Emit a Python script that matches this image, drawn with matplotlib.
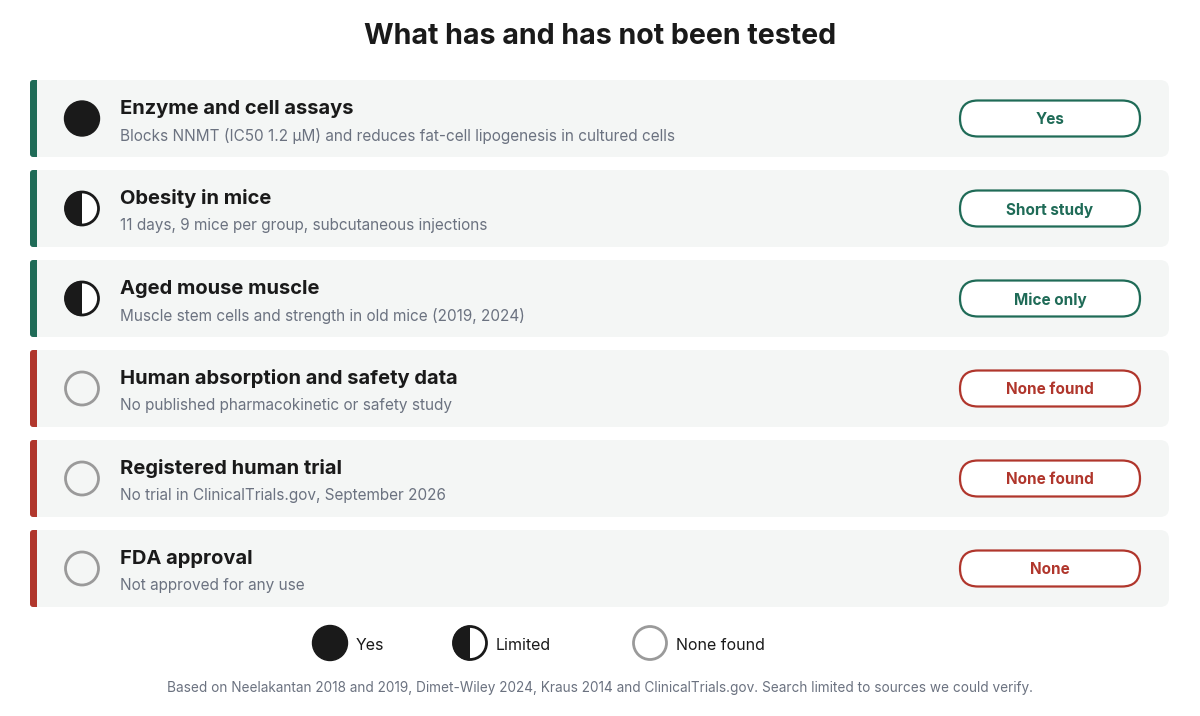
import matplotlib
matplotlib.use("Agg")
import matplotlib.pyplot as plt
from matplotlib.patches import FancyBboxPatch, Circle, Wedge

plt.rcParams['font.family'] = ['Inter', 'DejaVu Sans']

# ---- data ----
chart_title = "What has and has not been tested"
categories = ["Enzyme and cell assays", "Obesity in mice", "Aged mouse muscle",
              "Human absorption and safety data", "Registered human trial", "FDA approval"]
descriptions = ["Blocks NNMT (IC50 1.2 µM) and reduces fat-cell lipogenesis in cultured cells",
                "11 days, 9 mice per group, subcutaneous injections",
                "Muscle stem cells and strength in old mice (2019, 2024)",
                "No published pharmacokinetic or safety study",
                "No trial in ClinicalTrials.gov, September 2026",
                "Not approved for any use"]
evidence = ["yes", "limited", "limited", "none", "none", "none"]
verdicts = ["Yes", "Short study", "Mice only", "None found", "None found", "None"]
verdict_good = [True, True, True, False, False, False]
legend_keys = ["yes", "limited", "none"]
legend_labels = ["Yes", "Limited", "None found"]
footer = ("Based on Neelakantan 2018 and 2019, Dimet-Wiley 2024, Kraus 2014 and ClinicalTrials.gov. "
          "Search limited to sources we could verify.")

# ---- style ----
GREEN = "#1f6b57"
RED = "#b0362c"
CARD = "#f4f6f5"
DARK = "#1a1a1a"
GREY_TXT = "#6b7280"
GREY_RING = "#9a9a9a"

fig = plt.figure(figsize=(12, 7.16), dpi=100)
ax = fig.add_axes([0, 0, 1, 1])
ax.set_xlim(0, 1200)
ax.set_ylim(716, 0)
ax.axis("off")


def icon(kind, cx, cy, r):
    if kind == "yes":
        ax.add_patch(Circle((cx, cy), r, facecolor=DARK, edgecolor=DARK, lw=1.0, zorder=3))
    elif kind == "limited":
        ax.add_patch(Circle((cx, cy), r - 1.0, facecolor="white", edgecolor="none", zorder=3))
        ax.add_patch(Wedge((cx, cy), r, 90, 270, facecolor=DARK, edgecolor="none", zorder=4))
        ax.add_patch(Circle((cx, cy), r - 1.0, facecolor="none", edgecolor=DARK, lw=2.0, zorder=5))
    else:
        ax.add_patch(Circle((cx, cy), r - 1.0, facecolor="none", edgecolor=GREY_RING, lw=2.0, zorder=3))


ax.text(600, 36, chart_title, ha="center", va="center", fontsize=20.6, fontweight="bold", color=DARK)

top0, pitch, h = 80, 90, 77
for i, cat in enumerate(categories):
    top = top0 + i * pitch
    cy = top + h / 2
    col = GREEN if verdict_good[i] else RED
    ax.add_patch(FancyBboxPatch((30, top), 1139, h, boxstyle="round,pad=0,rounding_size=9",
                                facecolor=CARD, edgecolor="none", zorder=1))
    ax.add_patch(FancyBboxPatch((30, top), 7, h, boxstyle="round,pad=0,rounding_size=3",
                                facecolor=col, edgecolor="none", zorder=2))
    ax.add_patch(FancyBboxPatch((30 + 3.5, top), 3.5, h, boxstyle="square,pad=0",
                                facecolor=col, edgecolor="none", zorder=2))
    icon(evidence[i], 82, cy, 17.5)
    ax.text(120, top + 29, cat, ha="left", va="center", fontsize=14.5, fontweight="bold", color=DARK)
    ax.text(120, top + 55.5, descriptions[i], ha="left", va="center", fontsize=11.05, color=GREY_TXT)
    ax.add_patch(FancyBboxPatch((960, cy - 18), 180, 36, boxstyle="round,pad=0,rounding_size=18",
                                facecolor="white", edgecolor=col, lw=1.6, zorder=3))
    ax.text(1050, cy + 1.5, verdicts[i], ha="center", va="center", fontsize=11, fontweight="bold",
            color=col, zorder=4)

leg_x = [330, 470, 650]
for k, lab, x in zip(legend_keys, legend_labels, leg_x):
    icon(k, x, 643, 17.5)
    ax.text(x + 26, 645, lab, ha="left", va="center", fontsize=11.5, color=DARK)

ax.text(600, 688, footer, ha="center", va="center", fontsize=9.8, color=GREY_TXT)

fig.savefig("out.png", dpi=100, facecolor="white")
